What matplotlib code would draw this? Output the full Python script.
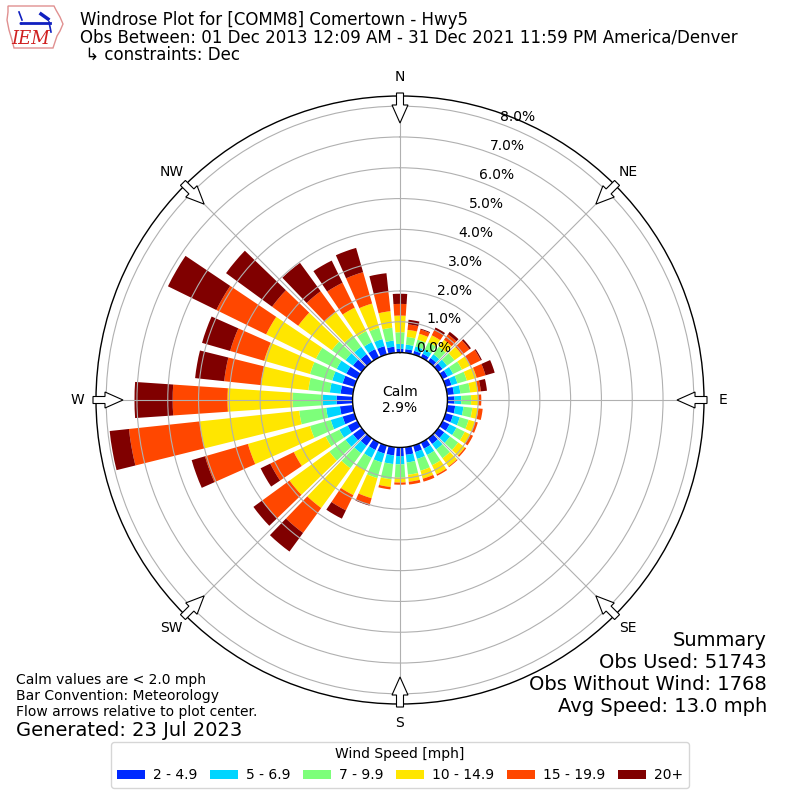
import numpy as np
import matplotlib
matplotlib.use("Agg")
import matplotlib.pyplot as plt
from matplotlib.patches import Patch, Polygon

# direction bins (degrees, meteorological "from")
directions = np.arange(0, 360, 10)

# cumulative frequency (%) at the top of each speed class, per direction
cum_2 = [0.12, 0.12, 0.12, 0.13, 0.15, 0.17, 0.18, 0.20, 0.22, 0.23,
         0.26, 0.25, 0.25, 0.24, 0.23, 0.22, 0.22, 0.25, 0.28, 0.27,
         0.27, 0.27, 0.30, 0.35, 0.35, 0.40, 0.42, 0.52, 0.40, 0.40,
         0.40, 0.35, 0.30, 0.30, 0.28, 0.20]
cum_5 = [0.28, 0.27, 0.27, 0.28, 0.30, 0.35, 0.38, 0.40, 0.43, 0.45,
         0.53, 0.48, 0.50, 0.47, 0.45, 0.45, 0.45, 0.50, 0.55, 0.55,
         0.57, 0.55, 0.60, 0.65, 0.65, 0.80, 0.87, 0.97, 0.75, 0.75,
         0.75, 0.65, 0.60, 0.55, 0.52, 0.40]
cum_7 = [0.66, 0.52, 0.50, 0.55, 0.60, 0.65, 0.70, 0.72, 0.75, 0.77,
         0.82, 0.78, 0.80, 0.80, 0.80, 0.82, 0.85, 0.90, 0.98, 1.05,
         1.10, 1.00, 1.20, 1.30, 1.15, 1.50, 1.75, 1.95, 1.45, 1.50,
         1.50, 1.20, 1.05, 0.95, 0.90, 0.82]
cum_10 = [1.20, 0.75, 0.70, 0.80, 0.88, 0.95, 1.00, 1.05, 1.00, 1.00,
          1.02, 1.00, 1.00, 1.07, 1.13, 1.15, 1.12, 1.13, 1.14, 1.30,
          1.78, 1.90, 2.80, 2.90, 2.30, 3.60, 5.00, 4.06, 3.00, 3.05,
          3.30, 2.55, 2.00, 1.80, 1.72, 1.36]
cum_15 = [1.58, 0.93, 0.84, 1.00, 1.10, 1.25, 1.38, 1.35, 1.10, 1.10,
          1.16, 1.09, 1.10, 1.12, 1.16, 1.20, 1.22, 1.22, 1.21, 1.38,
          2.00, 2.45, 3.80, 4.00, 3.15, 5.05, 7.31, 5.84, 4.20, 4.20,
          5.10, 3.60, 2.83, 2.70, 2.78, 2.00]
cum_20 = [1.91, 1.08, 0.87, 1.08, 1.20, 1.31, 1.42, 1.66, 1.30, 1.10,
          1.16, 1.09, 1.10, 1.12, 1.16, 1.20, 1.22, 1.22, 1.21, 1.38,
          2.03, 2.75, 4.55, 4.35, 3.50, 5.50, 7.94, 7.08, 5.15, 5.15,
          6.85, 5.45, 3.97, 3.50, 3.60, 2.60]

speed_labels = ["2 - 4.9", "5 - 6.9", "7 - 9.9", "10 - 14.9", "15 - 19.9", "20+"]
calm_pct = 2.9
ring_ticks = [0, 1, 2, 3, 4, 5, 6, 7, 8]
compass = ["N", "NE", "E", "SE", "S", "SW", "W", "NW"]

colors = plt.cm.jet(np.linspace(0, 1, 7))[1:]
tops = np.array([cum_2, cum_5, cum_7, cum_10, cum_15, cum_20])
bottoms = np.vstack([np.zeros(len(directions)), tops[:-1]])

fig = plt.figure(figsize=(8, 8), dpi=100)
ax = fig.add_axes([0.12, 0.12, 0.76, 0.76], projection="polar")
ax.set_theta_zero_location("N")
ax.set_theta_direction(-1)

theta = np.deg2rad(directions)
width = np.deg2rad(7.8)
for i in range(len(speed_labels)):
    ax.bar(theta, tops[i] - bottoms[i], width=width, bottom=bottoms[i],
           color=colors[i], edgecolor="none", linewidth=0)

ax.set_rorigin(-1.54)
ax.set_ylim(0, 8.33)
ax.set_yticks(ring_ticks)
ax.set_yticklabels([f"{t:.1f}%" for t in ring_ticks], fontsize=10)
ax.set_rlabel_position(20)
ax.set_xticks(np.deg2rad(np.arange(0, 360, 45)))
ax.set_xticklabels(compass, fontsize=10)
ax.tick_params(axis="x", pad=3)
ax.grid(True, color="#b0b0b0", linewidth=0.8)
ax.spines["polar"].set_linewidth(1.0)
ax.spines["inner"].set_linewidth(1.0)
ax.spines["inner"].set_color("black")

ax.text(0.5, 0.5, f"Calm\n{calm_pct:.1f}%", transform=ax.transAxes,
        ha="center", va="center", fontsize=10)

# hollow flow arrows around the edge
for d in np.arange(0, 360, 45):
    a = np.deg2rad(d)
    u = np.array([np.sin(a), np.cos(a)])
    p = np.array([np.cos(a), -np.sin(a)])
    shape = [(307, -3.5), (295, -3.5), (295, -8), (277, 0),
             (295, 8), (295, 3.5), (307, 3.5)]
    pts = [(400 + r * u[0] + s * p[0], 400 + r * u[1] + s * p[1]) for r, s in shape]
    pts = np.array(pts) / 800.0
    fig.add_artist(Polygon(pts, closed=True, facecolor="white", edgecolor="black",
                           linewidth=0.8, transform=fig.transFigure, zorder=10))

# header
fig.text(0.1, 1 - 20 / 800, "Windrose Plot for [COMM8] Comertown - Hwy5",
         fontsize=12, va="center")
fig.text(0.1, 1 - 38 / 800,
         "Obs Between: 01 Dec 2013 12:09 AM - 31 Dec 2021 11:59 PM America/Denver",
         fontsize=12, va="center")
fig.text(0.1, 1 - 55 / 800, " \u21b3 constraints: Dec", fontsize=12, va="center")


# rough IEM logo (pixel coords from top-left)
def px(x, y):
    return x / 800, 1 - y / 800


iowa = np.array([[8, 6], [54, 6], [56, 10], [60, 17], [63, 24], [60, 31],
                 [57, 36], [55, 42], [53, 48], [14, 48], [12, 40], [9, 30],
                 [7, 20], [8, 12]])
iowa = np.column_stack([iowa[:, 0] / 800, 1 - iowa[:, 1] / 800])
fig.add_artist(Polygon(iowa, closed=True, facecolor="none", edgecolor="#e09090",
                       linewidth=1.0, transform=fig.transFigure))
bx, by = zip(px(22, 23), px(50, 23))
fig.add_artist(plt.Line2D(bx, by, color="#1020c0", linewidth=2,
                          transform=fig.transFigure))
bx, by = zip(px(19, 12), px(22, 20))
fig.add_artist(plt.Line2D(bx, by, color="#1020c0", linewidth=1.2,
                          transform=fig.transFigure))
bx, by = zip(px(41, 14), px(48, 19))
fig.add_artist(plt.Line2D(bx, by, color="#1020c0", linewidth=2.5,
                          transform=fig.transFigure))
bx, by = zip(px(49, 22), px(51, 32))
fig.add_artist(plt.Line2D(bx, by, color="#1020c0", linewidth=1.2,
                          transform=fig.transFigure))
fig.text(*px(20, 24), "\u2022", color="#1020c0", fontsize=7, ha="center", va="center")
fig.text(*px(31, 39), "IEM", color="#d02020", fontsize=13,
         family="DejaVu Serif", style="italic", ha="center", va="center")

# bottom left notes
fig.text(16 / 800, 1 - 680 / 800, "Calm values are < 2.0 mph", fontsize=10, va="center")
fig.text(16 / 800, 1 - 696 / 800, "Bar Convention: Meteorology", fontsize=10, va="center")
fig.text(16 / 800, 1 - 712 / 800, "Flow arrows relative to plot center.", fontsize=10, va="center")
fig.text(16 / 800, 1 - 730 / 800, "Generated: 23 Jul 2023", fontsize=14, va="center")

# summary
summary = ["Summary", "Obs Used: 51743", "Obs Without Wind: 1768", "Avg Speed: 13.0 mph"]
for k, line in enumerate(summary):
    fig.text(767 / 800, 1 - (640 + 22 * k) / 800, line, fontsize=14,
             ha="right", va="center")

handles = [Patch(facecolor=c, label=l) for c, l in zip(colors, speed_labels)]
fig.legend(handles=handles, loc="lower center", bbox_to_anchor=(0.5, 0.0065),
           ncol=6, fontsize=10, title="Wind Speed [mph]", title_fontsize=10,
           handlelength=2.0, handleheight=0.6, handletextpad=0.6,
           columnspacing=0.9)

fig.savefig("out.png", dpi=100)
